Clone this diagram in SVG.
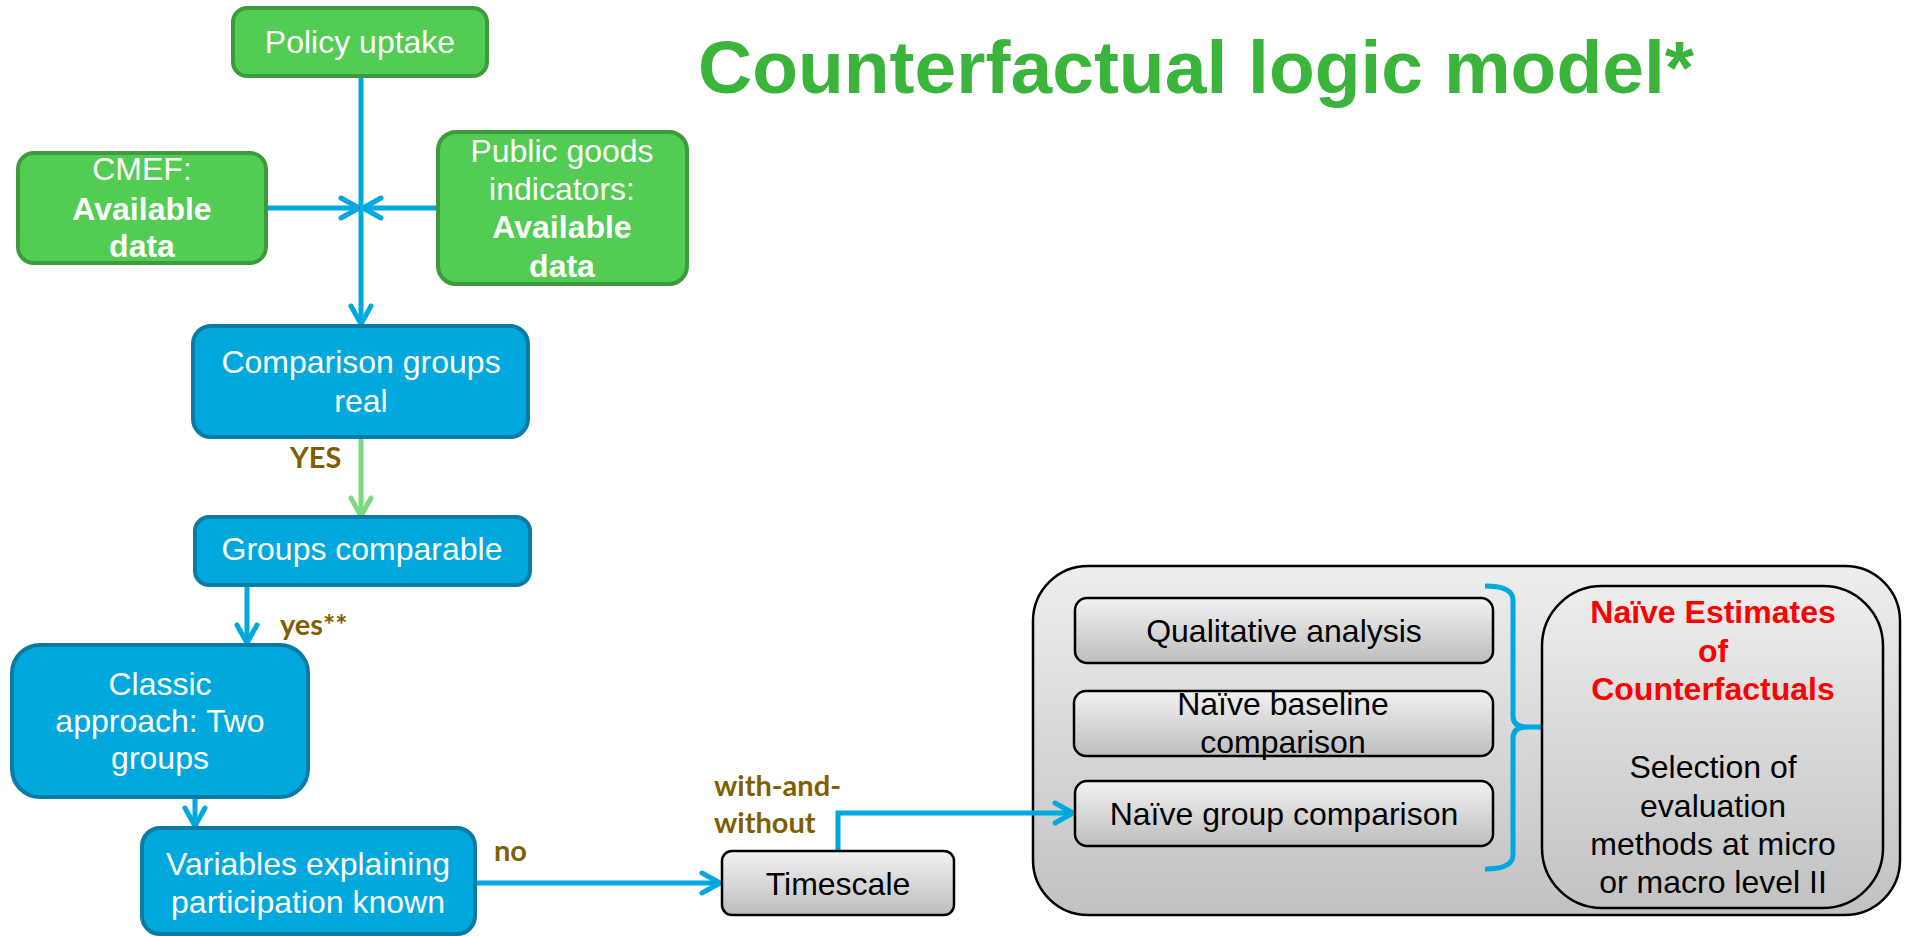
<svg xmlns="http://www.w3.org/2000/svg" width="1905" height="936" viewBox="0 0 1905 936">
<style>
.gbox{fill:#52cc52;stroke:#3d9b3d;stroke-width:4}
.bbox{fill:#00a8de;stroke:#0a7ba3;stroke-width:4}
.xbox{fill:url(#gray);stroke:#000;stroke-width:2.5}
.wt{font-family:"Liberation Sans",Arial,sans-serif;font-size:32px;fill:#fff;text-anchor:middle}
.kt{font-family:"Liberation Sans",Arial,sans-serif;font-size:32px;fill:#000;text-anchor:middle}
.rt{font-family:"Liberation Sans",Arial,sans-serif;font-size:32px;font-weight:bold;fill:#ff0000;text-anchor:middle}
.b{font-weight:bold}
.lbl{font-family:Lato,"Open Sans",sans-serif;font-size:29px;font-weight:bold;fill:#7f6000}
.con{fill:none;stroke:#00a8e0;stroke-width:5}
.title{font-family:"Liberation Sans",Arial,sans-serif;font-size:75px;font-weight:bold;fill:#3ab43a;text-anchor:middle}
</style>
<defs>
<linearGradient id="gray" x1="0" y1="0" x2="0" y2="1">
<stop offset="0" stop-color="#f2f2f2"/>
<stop offset="1" stop-color="#bdbdbd"/>
</linearGradient>
<linearGradient id="gray2" x1="0" y1="0" x2="0" y2="1">
<stop offset="0" stop-color="#eeeeee"/>
<stop offset="1" stop-color="#c2c2c2"/>
</linearGradient>
<marker id="ab" markerUnits="userSpaceOnUse" viewBox="-22 -13 26 26" refX="0" refY="0" markerWidth="26" markerHeight="26" orient="auto">
<path d="M-18,-10 L0,0 L-18,10" fill="none" stroke="#00a8e0" stroke-width="5" stroke-linecap="round" stroke-linejoin="round"/>
</marker>
<marker id="ag" markerUnits="userSpaceOnUse" viewBox="-22 -13 26 26" refX="0" refY="0" markerWidth="26" markerHeight="26" orient="auto">
<path d="M-18,-10 L0,0 L-18,10" fill="none" stroke="#80d880" stroke-width="5" stroke-linecap="round" stroke-linejoin="round"/>
</marker>
</defs>
<rect width="1905" height="936" fill="#fff"/>
<text class="title" x="1196" y="93">Counterfactual logic model*</text>

<g id="container">
<rect x="1033" y="566" width="867" height="349" rx="55" fill="url(#gray2)" stroke="#000" stroke-width="2.5"/>
</g>

<g id="connectors">
<line class="con" x1="361" y1="76" x2="361" y2="324" marker-end="url(#ab)"/>
<line class="con" x1="266" y1="208" x2="359" y2="208" marker-end="url(#ab)"/>
<line class="con" x1="438" y1="208" x2="363" y2="208" marker-end="url(#ab)"/>
<line x1="361" y1="437" x2="361" y2="516" fill="none" stroke="#80d880" stroke-width="5" marker-end="url(#ag)"/>
<line class="con" x1="247" y1="585" x2="247" y2="643" marker-end="url(#ab)"/>
<line class="con" x1="195" y1="797" x2="195" y2="826" marker-end="url(#ab)"/>
<line class="con" x1="475" y1="883" x2="720" y2="883" marker-end="url(#ab)"/>
<path class="con" d="M838,851 V813 H1073" marker-end="url(#ab)"/>
<path d="M1485,586 Q1513,586 1513,600 L1513,716 Q1513,727 1527,727 L1543,727 M1527,727 Q1513,727 1513,738 L1513,855 Q1513,869 1485,869" fill="none" stroke="#00a8e0" stroke-width="5"/>
</g>

<g id="policy">
<rect class="gbox" x="233" y="8" width="254" height="68" rx="14"/>
<text class="wt" x="360" y="53">Policy uptake</text>
</g>
<g id="cmef">
<rect class="gbox" x="18" y="153" width="248" height="110" rx="16"/>
<text class="wt" x="142" y="180">CMEF:</text>
<text class="wt b" x="142" y="220">Available</text>
<text class="wt b" x="142" y="257">data</text>
</g>
<g id="public">
<rect class="gbox" x="438" y="132" width="249" height="152" rx="18"/>
<text class="wt" x="562" y="162">Public goods</text>
<text class="wt" x="562" y="200">indicators:</text>
<text class="wt b" x="562" y="238">Available</text>
<text class="wt b" x="562" y="277">data</text>
</g>
<g id="comparison">
<rect class="bbox" x="193" y="326" width="335" height="111" rx="18"/>
<text class="wt" x="361" y="373">Comparison groups</text>
<text class="wt" x="361" y="412">real</text>
</g>
<g id="groups">
<rect class="bbox" x="195" y="517" width="335" height="68" rx="14"/>
<text class="wt" x="362" y="560">Groups comparable</text>
</g>
<g id="classic">
<rect class="bbox" x="12" y="645" width="296" height="152" rx="28"/>
<text class="wt" x="160" y="695">Classic</text>
<text class="wt" x="160" y="732">approach: Two</text>
<text class="wt" x="160" y="769">groups</text>
</g>
<g id="variables">
<rect class="bbox" x="142" y="828" width="333" height="106" rx="18"/>
<text class="wt" x="308" y="875">Variables explaining</text>
<text class="wt" x="308" y="913">participation known</text>
</g>
<g id="timescale">
<rect class="xbox" x="722" y="851" width="232" height="64" rx="10"/>
<text class="kt" x="838" y="895">Timescale</text>
</g>
<g id="qualitative">
<rect class="xbox" x="1075" y="598" width="418" height="65" rx="12"/>
<text class="kt" x="1284" y="642">Qualitative analysis</text>
</g>
<g id="baseline">
<rect class="xbox" x="1074" y="691" width="419" height="65" rx="12"/>
<text class="kt" x="1283" y="715">Naïve baseline</text>
<text class="kt" x="1283" y="753">comparison</text>
</g>
<g id="groupcomp">
<rect class="xbox" x="1075" y="781" width="418" height="65" rx="12"/>
<text class="kt" x="1284" y="825">Naïve group comparison</text>
</g>
<g id="estimates">
<rect x="1542" y="586" width="341" height="322" rx="60" fill="url(#gray2)" stroke="#000" stroke-width="2.5"/>
<text class="rt" x="1713" y="623">Naïve Estimates</text>
<text class="rt" x="1713" y="662">of</text>
<text class="rt" x="1713" y="700">Counterfactuals</text>
<text class="kt" x="1713" y="778">Selection of</text>
<text class="kt" x="1713" y="817">evaluation</text>
<text class="kt" x="1713" y="855">methods at micro</text>
<text class="kt" x="1713" y="893">or macro level II</text>
</g>

<g id="labels">
<text class="lbl" x="290" y="468">YES</text>
<text class="lbl" x="280" y="635">yes**</text>
<text class="lbl" x="494" y="861">no</text>
<text class="lbl" x="714" y="796">with-and-</text>
<text class="lbl" x="714" y="833">without</text>
</g>
</svg>
